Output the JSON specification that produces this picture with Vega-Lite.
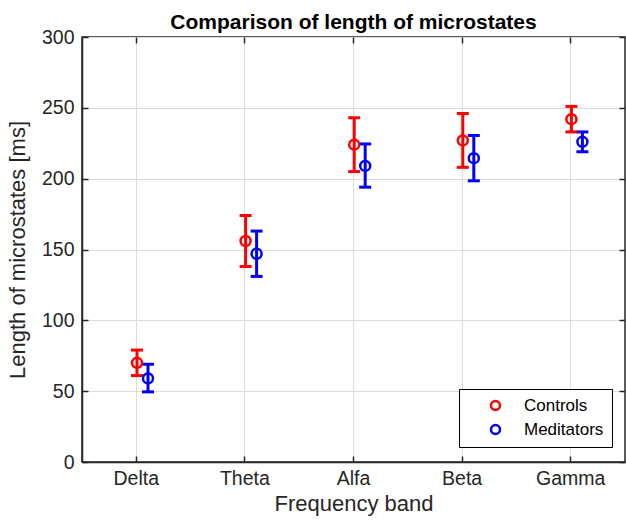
{
  "$schema": "https://vega.github.io/schema/vega-lite/v6.json",
  "autosize": {"type": "none"},
  "padding": {"left": 82, "top": 37, "right": 1, "bottom": 62},
  "width": 543,
  "height": 425,
  "background": "white",
  "title": {"text": "Comparison of length of microstates", "fontSize": 21, "fontWeight": "bold", "font": "Liberation Sans", "color": "#000000", "offset": -6, "anchor": "middle"},
  "config": {
    "font": "Liberation Sans",
    "view": {"stroke": "#262626", "strokeWidth": 1.5},
    "axis": {"labelFont": "Liberation Sans", "titleFont": "Liberation Sans", "labelColor": "#262626", "titleColor": "#262626", "titleFontWeight": "normal", "domainColor": "#262626", "tickColor": "#262626", "gridColor": "#dcdcdc", "gridWidth": 1, "domainWidth": 1.5, "tickWidth": 1.5}
  },
  "data": {"values": [
    {"band": "Delta", "group": "Controls", "mean": 70, "low": 61, "high": 79},
    {"band": "Delta", "group": "Meditators", "mean": 59, "low": 49.5, "high": 69},
    {"band": "Theta", "group": "Controls", "mean": 156, "low": 138, "high": 174},
    {"band": "Theta", "group": "Meditators", "mean": 147, "low": 131, "high": 163},
    {"band": "Alfa", "group": "Controls", "mean": 224, "low": 205, "high": 243},
    {"band": "Alfa", "group": "Meditators", "mean": 209, "low": 194, "high": 224.5},
    {"band": "Beta", "group": "Controls", "mean": 227, "low": 208, "high": 246},
    {"band": "Beta", "group": "Meditators", "mean": 214.5, "low": 198.5, "high": 230.5},
    {"band": "Gamma", "group": "Controls", "mean": 242, "low": 233, "high": 251},
    {"band": "Gamma", "group": "Meditators", "mean": 226, "low": 219, "high": 233}
  ]},
  "encoding": {
    "x": {"field": "band", "type": "nominal", "sort": ["Delta", "Theta", "Alfa", "Beta", "Gamma"],
      "scale": {"type": "band", "paddingInner": 0, "paddingOuter": 0}},
    "xOffset": {"field": "group", "type": "nominal", "scale": {"type": "point", "domain": ["Controls", "Meditators"], "range": [55, 66], "padding": 0}}
  },
  "layer": [
    {
      "mark": {"type": "rule", "strokeWidth": 3},
      "encoding": {
        "x": {"field": "band", "type": "nominal", "sort": ["Delta", "Theta", "Alfa", "Beta", "Gamma"],
          "axis": {"orient": "bottom", "title": "Frequency band", "titleFontSize": 22, "titlePadding": 6, "labelFontSize": 19.5, "labelAngle": 0, "labelPadding": 13, "tickSize": -6, "grid": true, "bandPosition": 0.5}},
        "y": {"field": "low", "type": "quantitative", "scale": {"domain": [0, 300], "nice": false, "zero": true},
          "axis": {"orient": "left", "title": "Length of microstates [ms]", "titleFontSize": 22, "titlePadding": 12, "labelFontSize": 19.5, "values": [0, 50, 100, 150, 200, 250, 300], "labelPadding": 14, "tickSize": -6, "grid": true}},
        "y2": {"field": "high"},
        "color": {"field": "group", "type": "nominal", "scale": {"domain": ["Controls", "Meditators"], "range": ["#ff0000", "#0000ff"]}}
      }
    },
    {
      "mark": {"type": "point", "shape": "M-1,0L1,0", "filled": false, "size": 144, "strokeWidth": 3, "opacity": 1},
      "encoding": {
        "x": {"field": "band", "type": "nominal", "sort": ["Delta", "Theta", "Alfa", "Beta", "Gamma"],
          "axis": {"orient": "top", "title": null, "labels": false, "tickSize": -6, "grid": false, "domain": false, "bandPosition": 0.5}},
        "y": {"field": "high", "type": "quantitative",
          "axis": {"orient": "right", "title": null, "labels": false, "tickSize": -6, "grid": false, "domain": false, "values": [0, 50, 100, 150, 200, 250, 300]}},
        "color": {"field": "group", "type": "nominal"}
      }
    },
    {
      "mark": {"type": "point", "shape": "M-1,0L1,0", "filled": false, "size": 144, "strokeWidth": 3, "opacity": 1},
      "encoding": {
        "x": {"field": "band", "type": "nominal", "sort": ["Delta", "Theta", "Alfa", "Beta", "Gamma"], "axis": null},
        "y": {"field": "low", "type": "quantitative", "axis": null},
        "color": {"field": "group", "type": "nominal"}
      }
    },
    {
      "mark": {"type": "point", "shape": "circle", "filled": false, "size": 100, "strokeWidth": 2.5, "opacity": 1},
      "encoding": {
        "x": {"field": "band", "type": "nominal", "sort": ["Delta", "Theta", "Alfa", "Beta", "Gamma"], "axis": null},
        "y": {"field": "mean", "type": "quantitative", "axis": null},
        "color": {"field": "group", "type": "nominal",
          "legend": {"orient": "none", "legendX": 377, "legendY": 352, "title": null, "strokeColor": "#000000", "fillColor": "#ffffff", "padding": 8, "symbolType": "circle", "symbolSize": 80, "symbolStrokeWidth": 2.5, "symbolOpacity": 1, "symbolOffset": 20, "labelOffset": 20, "labelFontSize": 17, "labelColor": "#000000", "rowPadding": 5, "labelLimit": 200}}
      }
    }
  ],
  "resolve": {"axis": {"x": "independent", "y": "independent"}}
}
